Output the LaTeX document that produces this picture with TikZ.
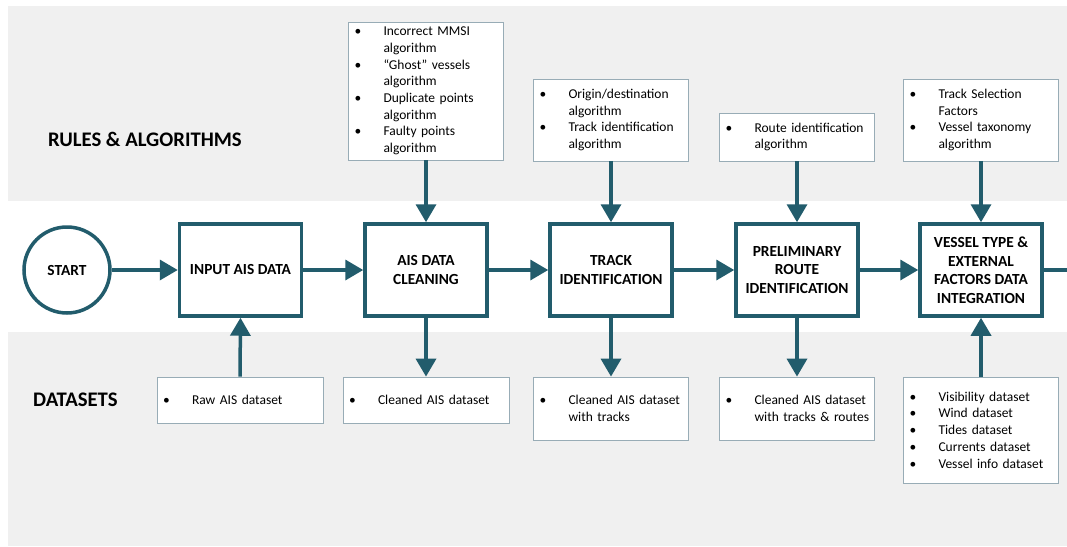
\documentclass[tikz,border=0pt]{standalone}
\usepackage{fontspec}
\setmainfont{Carlito}
\usetikzlibrary{arrows.meta}

\definecolor{flow}{RGB}{34,92,108}
\definecolor{band}{RGB}{240,240,240}
\definecolor{frame}{RGB}{152,172,182}

% bullet line and continuation line inside the info boxes (never broken)
\newcommand\bul[1]{\mbox{\makebox[29pt][l]{\textbullet}#1}}
\newcommand\cnt[1]{\mbox{\hspace*{29pt}#1}}

\begin{document}
\begin{tikzpicture}[x=1pt,y=-1pt,
  process/.style={draw=flow, line width=3.5pt, fill=white,
    minimum width=122pt, minimum height=92pt, inner sep=2pt, align=center,
    font=\fontsize{15.4}{18.5}\selectfont\bfseries},
  startnode/.style={circle, draw=flow, line width=3.5pt, fill=white,
    minimum size=86pt, inner sep=0pt, font=\fontsize{15.4}{18}\selectfont\bfseries},
  info/.style={draw=frame, line width=0.8pt, fill=white, text width=143pt,
    inner xsep=6pt, inner ysep=0pt, align=left,
    font=\fontsize{13.5}{16.7}\selectfont},
  wideinfo/.style={info, text width=154pt},
  flowline/.style={draw=flow, line width=3.5pt,
    -{Triangle[length=18pt,width=20pt]}},
  plainline/.style={draw=flow, line width=3.5pt},
  bandlabel/.style={anchor=west, inner sep=0pt,
    font=\fontsize{20.7}{24}\selectfont\bfseries}
]
\useasboundingbox (0,0) rectangle (1067,546);
\fill[white] (0,0) rectangle (1067,546);

% background bands
\fill[band] (8,6) rectangle (1067,201);
\fill[band] (8,332) rectangle (1067,546);

\node[bandlabel] (lblrules) at (48,139) {RULES \& ALGORITHMS};
\node[bandlabel] (lbldata) at (33,400) {DATASETS};

% main process chain
\node[startnode] (start) at (67,270) {START};
\node[process] (inp) at (240.5,270) {INPUT AIS DATA};
\node[process] (cln) at (426,270) {AIS DATA\\CLEANING};
\node[process] (trk) at (611,270) {TRACK\\IDENTIFICATION};
\node[process] (rte) at (797,270) {PRELIMINARY\\ROUTE\\IDENTIFICATION};
\node[process] (ves) at (981,270) {VESSEL TYPE \&\\EXTERNAL\\FACTORS DATA\\INTEGRATION};
\coordinate (exit) at (1067,270);

% rules and algorithms
\node[info, minimum height=138pt] (algcln) at (426,91)
  {\bul{Incorrect MMSI}\\\cnt{algorithm}\\\bul{“Ghost” vessels}\\\cnt{algorithm}\\
   \bul{Duplicate points}\\\cnt{algorithm}\\\bul{Faulty points}\\\cnt{algorithm}};
\node[info, minimum height=82pt] (algtrk) at (611,120)
  {\bul{Origin/destination}\\\cnt{algorithm}\\\bul{Track identification}\\\cnt{algorithm}};
\node[info, minimum height=48pt] (algrte) at (797,137)
  {\bul{Route identification}\\\cnt{algorithm}};
\node[info, minimum height=82pt] (algves) at (981,120)
  {\bul{Track Selection}\\\cnt{Factors}\\\bul{Vessel taxonomy}\\\cnt{algorithm}};

% datasets
\node[wideinfo, minimum height=46pt] (dsraw) at (240,400) {\bul{Raw AIS dataset}};
\node[wideinfo, minimum height=46pt] (dscln) at (426,400) {\bul{Cleaned AIS dataset}};
\node[info, minimum height=63pt] (dstrk) at (611,408.5)
  {\bul{Cleaned AIS dataset}\\\cnt{with tracks}};
\node[info, minimum height=63pt] (dsrte) at (797,408.5)
  {\bul{Cleaned AIS dataset}\\\cnt{with tracks \& routes}};
\node[info, minimum height=106pt] (dsves) at (981,430)
  {\bul{Visibility dataset}\\\bul{Wind dataset}\\\bul{Tides dataset}\\
   \bul{Currents dataset}\\\bul{Vessel info dataset}};

% chain connectors
\draw[flowline] (start) -- (inp);
\draw[flowline] (inp) -- (cln);
\draw[flowline] (cln) -- (trk);
\draw[flowline] (trk) -- (rte);
\draw[flowline] (rte) -- (ves);
\draw[plainline] (ves.east) -- (exit);

% algorithms feeding the steps
\draw[flowline] (algcln.south) -- (cln.north);
\draw[flowline] (algtrk.south) -- (trk.north);
\draw[flowline] (algrte.south) -- (rte.north);
\draw[flowline] (algves.south) -- (ves.north);

% dataset links
\draw[flowline] (dsraw.north) -- (inp.south);
\draw[flowline] (cln.south) -- (dscln.north);
\draw[flowline] (trk.south) -- (dstrk.north);
\draw[flowline] (rte.south) -- (dsrte.north);
\draw[flowline] (dsves.north) -- (ves.south);
\end{tikzpicture}
\end{document}
